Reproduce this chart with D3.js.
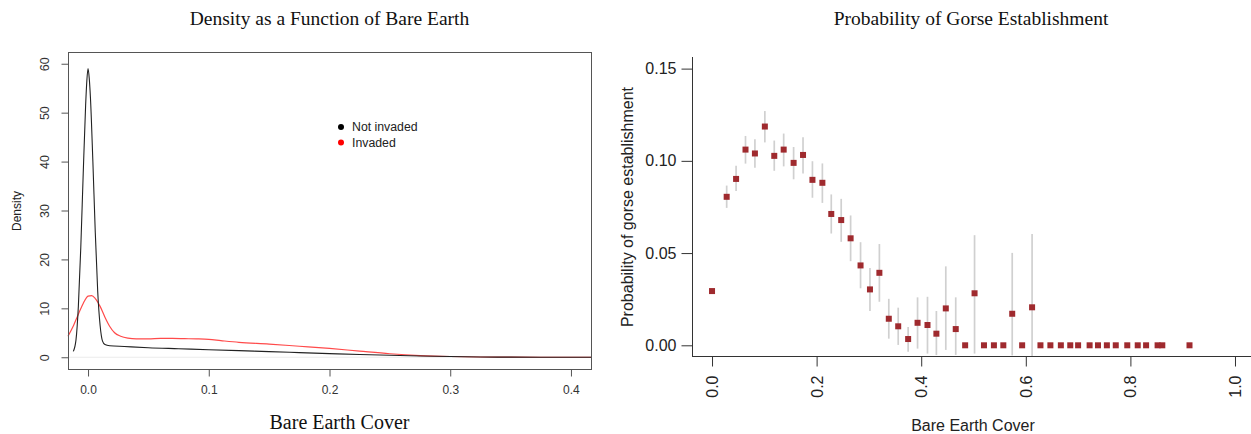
<!DOCTYPE html>
<html><head><meta charset="utf-8">
<script src="https://cdn.jsdelivr.net/npm/d3@7"></script>
<style>body{margin:0;background:#fff}svg{display:block}</style>
</head><body><svg id="c" width="1251" height="434"></svg>
<script>
// ---- Left chart: density curves ----
const notInvadedX = [-0.0122,-0.010,-0.008,-0.006,-0.004,-0.002,-0.001,0.0,0.001,0.002,0.004,0.006,0.008,0.010,0.012,0.014,0.018,0.03,0.05,0.075,0.1,0.125,0.15,0.175,0.2,0.225,0.25,0.275,0.3,0.325,0.35,0.375,0.4166];
const notInvadedY = [1.2,3.5,10.5,22.5,37.5,51.5,56.5,59.0,57.0,53.0,40.0,25.5,13.5,6.5,3.3,2.6,2.35,2.2,1.95,1.75,1.55,1.35,1.15,0.95,0.75,0.55,0.4,0.25,0.14,0.06,0.02,0.0,0.0];
const invadedX = [-0.0166,-0.012,-0.008,-0.004,0.0,0.003,0.006,0.010,0.014,0.018,0.022,0.027,0.033,0.04,0.05,0.06,0.07,0.08,0.09,0.1,0.11,0.125,0.15,0.175,0.2,0.225,0.25,0.275,0.3,0.325,0.35,0.4,0.4166];
const invadedY = [4.3,6.5,8.8,11.0,12.5,12.6,12.0,10.4,8.2,6.3,5.0,4.3,3.9,3.75,3.75,3.85,3.85,3.8,3.75,3.65,3.4,3.05,2.7,2.25,1.8,1.25,0.72,0.35,0.15,0.05,0.01,0.0,0.0];
const leftXTicks = [0.0,0.1,0.2,0.3,0.4];
const leftYTicks = [0,10,20,30,40,50,60];
const legendLabels = ["Not invaded","Invaded"];

// ---- Right chart: probability of establishment ----
const binX = [0.0,0.028,0.046,0.064,0.082,0.101,0.119,0.137,0.156,0.174,0.192,0.211,0.228,0.247,0.265,0.284,0.302,0.320,0.338,0.356,0.375,0.393,0.412,0.429,0.447,0.466,0.484,0.502,0.520,0.539,0.557,0.574,0.593,0.612,0.628,0.647,0.667,0.685,0.700,0.722,0.738,0.755,0.772,0.794,0.814,0.830,0.852,0.861,0.913];
const prob = [0.0294,0.0805,0.0902,0.1061,0.104,0.1186,0.1027,0.1061,0.0989,0.1032,0.0897,0.0881,0.0712,0.0679,0.058,0.0433,0.0303,0.0393,0.0144,0.0103,0.0034,0.0122,0.011,0.0063,0.020,0.0088,0,0.0282,0,0,0,0.0171,0,0.0206,0,0,0,0,0,0,0,0,0,0,0,0,0,0,0];
const probLo = [0.0285,0.0745,0.0836,0.0985,0.0962,0.110,0.0946,0.097,0.090,0.0931,0.080,0.0772,0.0606,0.0561,0.0456,0.0309,0.0186,0.0236,0.0036,0.0002,-0.0035,-0.0018,-0.0045,-0.0053,-0.0025,-0.0052,null,-0.0045,null,null,null,-0.0055,null,-0.0058,null,null,null,null,null,null,null,null,null,null,null,null,null,null,null];
const probHi = [0.0303,0.0866,0.0973,0.1135,0.1117,0.127,0.111,0.1148,0.1075,0.1128,0.0998,0.0986,0.0818,0.0794,0.0704,0.0559,0.0419,0.0549,0.0252,0.0204,0.0099,0.026,0.0263,0.0186,0.0428,0.026,null,0.0597,null,null,null,0.0501,null,0.0603,null,null,null,null,null,null,null,null,null,null,null,null,null,null,null];
const rightXTicks = [0.0,0.2,0.4,0.6,0.8,1.0];
const rightYTicks = [0.00,0.05,0.10,0.15];

const svg = d3.select("#c");
const SANS = "'Liberation Sans', Arial, Helvetica, sans-serif";
const SERIF = "'Liberation Serif', 'Times New Roman', serif";

// ===== LEFT =====
const L = {x0:68, x1:591, y0:52, y1:369};
const xL = d3.scaleLinear().domain([-0.0166,0.4166]).range([L.x0,L.x1]);
const yL = d3.scaleLinear().domain([-2.4,62.4]).range([L.y1,L.y0]);
const gL = svg.append("g");
gL.append("line").attr("x1",L.x0).attr("x2",L.x1).attr("y1",yL(0)).attr("y2",yL(0)).attr("stroke","#ebebeb").attr("stroke-width",1);
const lineGen = d3.line().curve(d3.curveMonotoneX);
gL.append("path").attr("d",lineGen(invadedX.map((x,i)=>[xL(x),yL(invadedY[i])]))).attr("fill","none").attr("stroke","#ff4a4a").attr("stroke-width",1.2);
gL.append("path").attr("d",lineGen(notInvadedX.map((x,i)=>[xL(x),yL(notInvadedY[i])]))).attr("fill","none").attr("stroke","#222").attr("stroke-width",1.1);
gL.append("rect").attr("x",L.x0+0.5).attr("y",L.y0+0.5).attr("width",L.x1-L.x0).attr("height",L.y1-L.y0).attr("fill","none").attr("stroke","#555").attr("stroke-width",1);
// y axis
const yAxL = d3.axisLeft(yL).tickValues(leftYTicks).tickSize(7).tickFormat(d3.format("d"));
const gyL = gL.append("g").attr("transform",`translate(${L.x0+0.5},0)`).call(yAxL);
gyL.select(".domain").attr("d",`M0,${yL(0)}V${yL(60)}`).attr("stroke","#555");
gyL.selectAll(".tick line").attr("stroke","#555");
gyL.selectAll(".tick text").attr("font-family",SANS).attr("font-size",12.5).attr("fill","#333")
  .attr("x",0).attr("dy",0).attr("text-anchor","middle").attr("dominant-baseline","central")
  .attr("transform",d=>`translate(-24,0) rotate(-90)`);
// x axis
const xAxL = d3.axisBottom(xL).tickValues(leftXTicks).tickSize(7).tickFormat(d3.format(".1f"));
const gxL = gL.append("g").attr("transform",`translate(0,${L.y1+0.5})`).call(xAxL);
gxL.select(".domain").remove();
gxL.selectAll(".tick line").attr("stroke","#555");
gxL.selectAll(".tick text").attr("font-family",SANS).attr("font-size",12).attr("fill","#333").attr("y",16).attr("dy","0.71em");
// labels
svg.append("text").attr("x",(L.x0+L.x1)/2).attr("y",25).attr("text-anchor","middle").attr("font-family",SERIF).attr("font-size",19.5).attr("fill","#111").text("Density as a Function of Bare Earth");
svg.append("text").attr("x",(L.x0+L.x1)/2+10).attr("y",429).attr("text-anchor","middle").attr("font-family",SERIF).attr("font-size",20).attr("fill","#111").text("Bare Earth Cover");
svg.append("text").attr("transform",`translate(17,211) rotate(-90)`).attr("text-anchor","middle").attr("dominant-baseline","central").attr("font-family",SANS).attr("font-size",12).attr("fill","#222").text("Density");
// legend
const legColors = ["#000","#ff0000"];
legendLabels.forEach((t,i)=>{
  const ly = 127 + i*15.5;
  svg.append("circle").attr("cx",341).attr("cy",ly).attr("r",3).attr("fill",legColors[i]);
  svg.append("text").attr("x",352).attr("y",ly).attr("dominant-baseline","central").attr("font-family",SANS).attr("font-size",12.3).attr("fill","#222").text(t);
});

// ===== RIGHT =====
const R = {x0:692, x1:1251, y0:57, y1:356};
const xR = d3.scaleLinear().domain([-0.0383,1.0306]).range([R.x0,R.x1]);
const yR = d3.scaleLinear().domain([-0.0058,0.1563]).range([R.y1,R.y0]);
const gR = svg.append("g");
svg.append("clipPath").attr("id","rc").append("rect").attr("x",R.x0).attr("y",R.y0-20).attr("width",R.x1-R.x0).attr("height",R.y1-R.y0+20);
const gPts = gR.append("g").attr("clip-path","url(#rc)");
binX.forEach((x,i)=>{
  if (probLo[i]!==null) {
    gPts.append("line").attr("x1",xR(x)).attr("x2",xR(x)).attr("y1",yR(probLo[i])).attr("y2",yR(probHi[i])).attr("stroke","#d0d0d0").attr("stroke-width",1.7);
  }
});
binX.forEach((x,i)=>{
  gPts.append("rect").attr("x",xR(x)-3).attr("y",yR(prob[i])-3).attr("width",6).attr("height",6).attr("fill","#9f2a2e");
});
// axes
const yAxR = d3.axisLeft(yR).tickValues(rightYTicks).tickSize(11).tickFormat(d3.format(".2f"));
const gyR = gR.append("g").attr("transform",`translate(${R.x0+0.5},0)`).call(yAxR);
gyR.select(".domain").attr("d",`M0,${R.y0}V${R.y1+0.5}`).attr("stroke","#333");
gyR.selectAll(".tick line").attr("stroke","#333");
gyR.selectAll(".tick text").attr("font-family",SANS).attr("font-size",16).attr("fill","#222").attr("x",-16);
const gxR = gR.append("g").attr("transform",`translate(0,${R.y1+0.5})`).call(d3.axisBottom(xR).tickValues(rightXTicks).tickSize(10).tickFormat(d3.format(".1f")));
gxR.select(".domain").attr("d",`M${R.x0},0H${R.x1}`).attr("stroke","#333");
gxR.selectAll(".tick line").attr("stroke","#333");
gxR.selectAll(".tick text").attr("font-family",SANS).attr("font-size",16).attr("fill","#222")
  .attr("y",0).attr("dy",0).attr("text-anchor","end").attr("dominant-baseline","central")
  .attr("transform","translate(0,19) rotate(-90)");
svg.append("text").attr("x",971).attr("y",25).attr("text-anchor","middle").attr("font-family",SERIF).attr("font-size",19.5).attr("fill","#111").text("Probability of Gorse Establishment");
svg.append("text").attr("x",973).attr("y",431).attr("text-anchor","middle").attr("font-family",SANS).attr("font-size",16).attr("fill","#222").text("Bare Earth Cover");
svg.append("text").attr("transform",`translate(627,207) rotate(-90)`).attr("text-anchor","middle").attr("dominant-baseline","central").attr("font-family",SANS).attr("font-size",16).attr("fill","#222").text("Probability of gorse establishment");
</script></body></html>
